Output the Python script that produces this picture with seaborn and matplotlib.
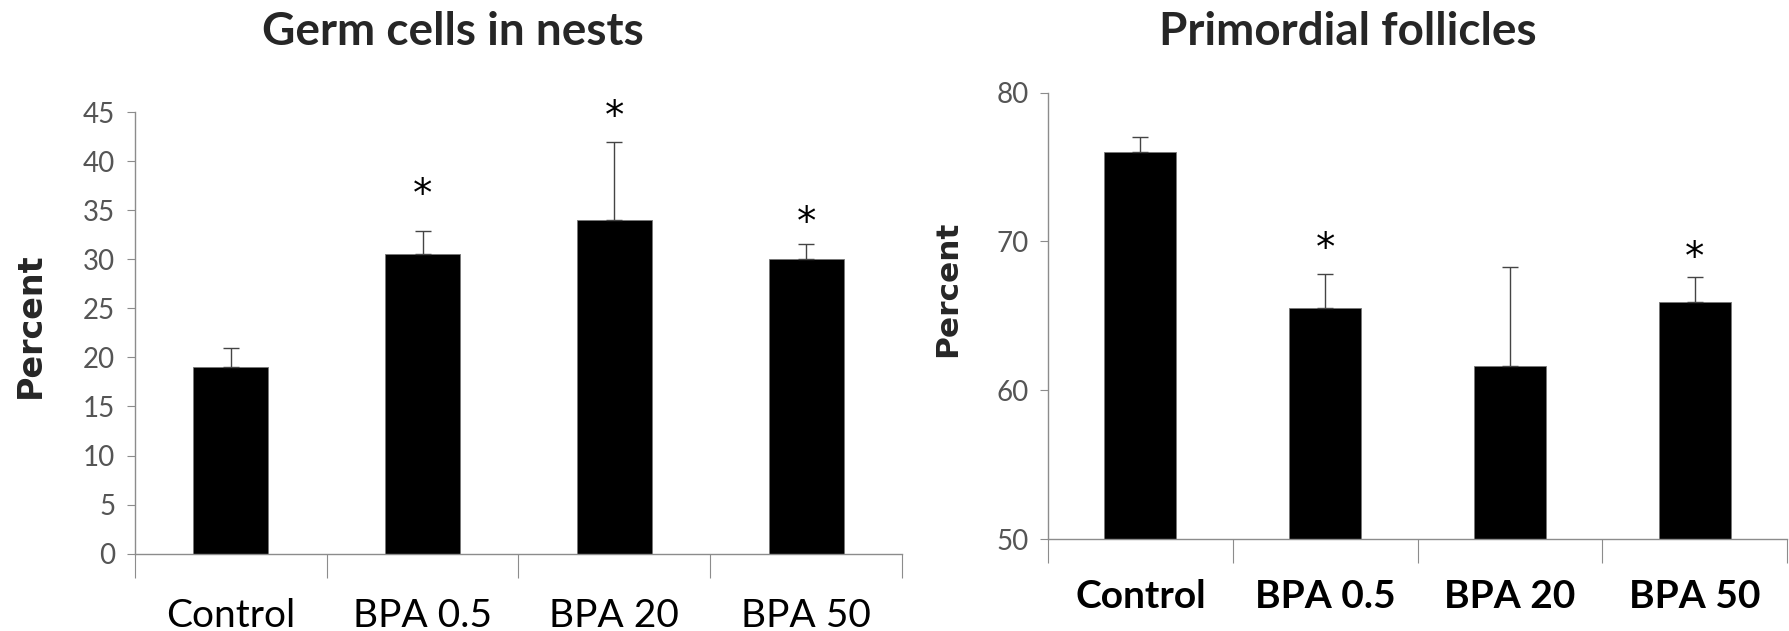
import matplotlib
matplotlib.use("Agg")
import matplotlib.pyplot as plt
import seaborn as sns
import pandas as pd
import numpy as np

categories = ["Control", "BPA 0.5", "BPA 20", "BPA 50"]

nest_values = [19.0, 30.5, 34.0, 30.0]
nest_err = [2.0, 2.4, 7.9, 1.6]
nest_star = [None, 37.2, 45.2, 34.4]

prim_values = [76.0, 65.5, 61.6, 65.9]
prim_err = [1.0, 2.3, 6.7, 1.7]
prim_star = [None, 69.9, None, 69.3]

nest_ticks = [0, 5, 10, 15, 20, 25, 30, 35, 40, 45]
prim_ticks = [50, 60, 70, 80]

sns.set_theme(style="white")
plt.rcParams['font.family'] = ['Lato', 'DejaVu Sans']

fig = plt.figure(figsize=(17.9, 6.31), dpi=100)
ax1 = fig.add_axes([0.0753, 0.1225, 0.4287, 0.700])
ax2 = fig.add_axes([0.5855, 0.1458, 0.4128, 0.7075])

GRAY = "#8c8c8c"
STAR_SIZE = 28


def draw(ax, values, errs, stars, ticks, ylim, bold_x, pad):
    df = pd.DataFrame({"group": categories, "value": values})
    sns.barplot(data=df, x="group", y="value", color="black", width=0.39,
                edgecolor="#777777", linewidth=0.6, saturation=1, ax=ax,
                errorbar=None)
    xs = np.arange(len(categories))
    ax.errorbar(xs, values, yerr=[np.zeros(len(values)), errs], fmt="none",
                ecolor="#444444", elinewidth=1.0, capsize=5.5, capthick=1.0,
                clip_on=False)
    for x, s in zip(xs, stars):
        if s is not None:
            ax.annotate("*", xy=(x, s), xytext=(0, -0.45 * STAR_SIZE),
                        textcoords="offset points", ha="center", va="baseline",
                        fontsize=STAR_SIZE, color="black", family="DejaVu Sans",
                        annotation_clip=False)
    ax.set_ylim(*ylim)
    ax.set_xlim(-0.5, len(categories) - 0.5)
    ax.set_yticks(ticks)
    ax.set_xlabel("")
    ax.set_ylabel("")
    for side in ["top", "right"]:
        ax.spines[side].set_visible(False)
    for side in ["left", "bottom"]:
        ax.spines[side].set_color(GRAY)
        ax.spines[side].set_linewidth(1.0)
    ax.tick_params(axis="y", which="major", left=True, length=6, width=0.8,
                   color=GRAY, labelsize=20, labelcolor="#555555", pad=8)
    ax.set_xticks(np.arange(-0.5, len(categories), 1.0), minor=True)
    ax.tick_params(axis="x", which="minor", bottom=True, length=17, width=0.8,
                   color=GRAY)
    ax.tick_params(axis="x", which="major", bottom=False, length=0,
                   labelsize=28, labelcolor="black", pad=pad)
    for lab in ax.get_xticklabels():
        if bold_x:
            lab.set_fontweight("bold")


draw(ax1, nest_values, nest_err, nest_star, nest_ticks, (0, 45), False, 32)
draw(ax2, prim_values, prim_err, prim_star, prim_ticks, (50, 80), True, 29)

fig.text(453 / 1790, 1 - 32 / 631, "Germ cells in nests", ha="center",
         va="center", fontsize=33, fontweight="bold")
fig.text(1348 / 1790, 1 - 32 / 631, "Primordial follicles", ha="center",
         va="center", fontsize=33, fontweight="bold")
fig.text(30 / 1790, 1 - 325 / 631, "Percent", rotation=90, ha="center",
         va="center", fontsize=24, fontweight="bold", family="DejaVu Sans")
fig.text(948 / 1790, 1 - 289 / 631, "Percent", rotation=90, ha="center",
         va="center", fontsize=22.5, fontweight="bold", family="DejaVu Sans")

fig.savefig("out.png", dpi=100)
